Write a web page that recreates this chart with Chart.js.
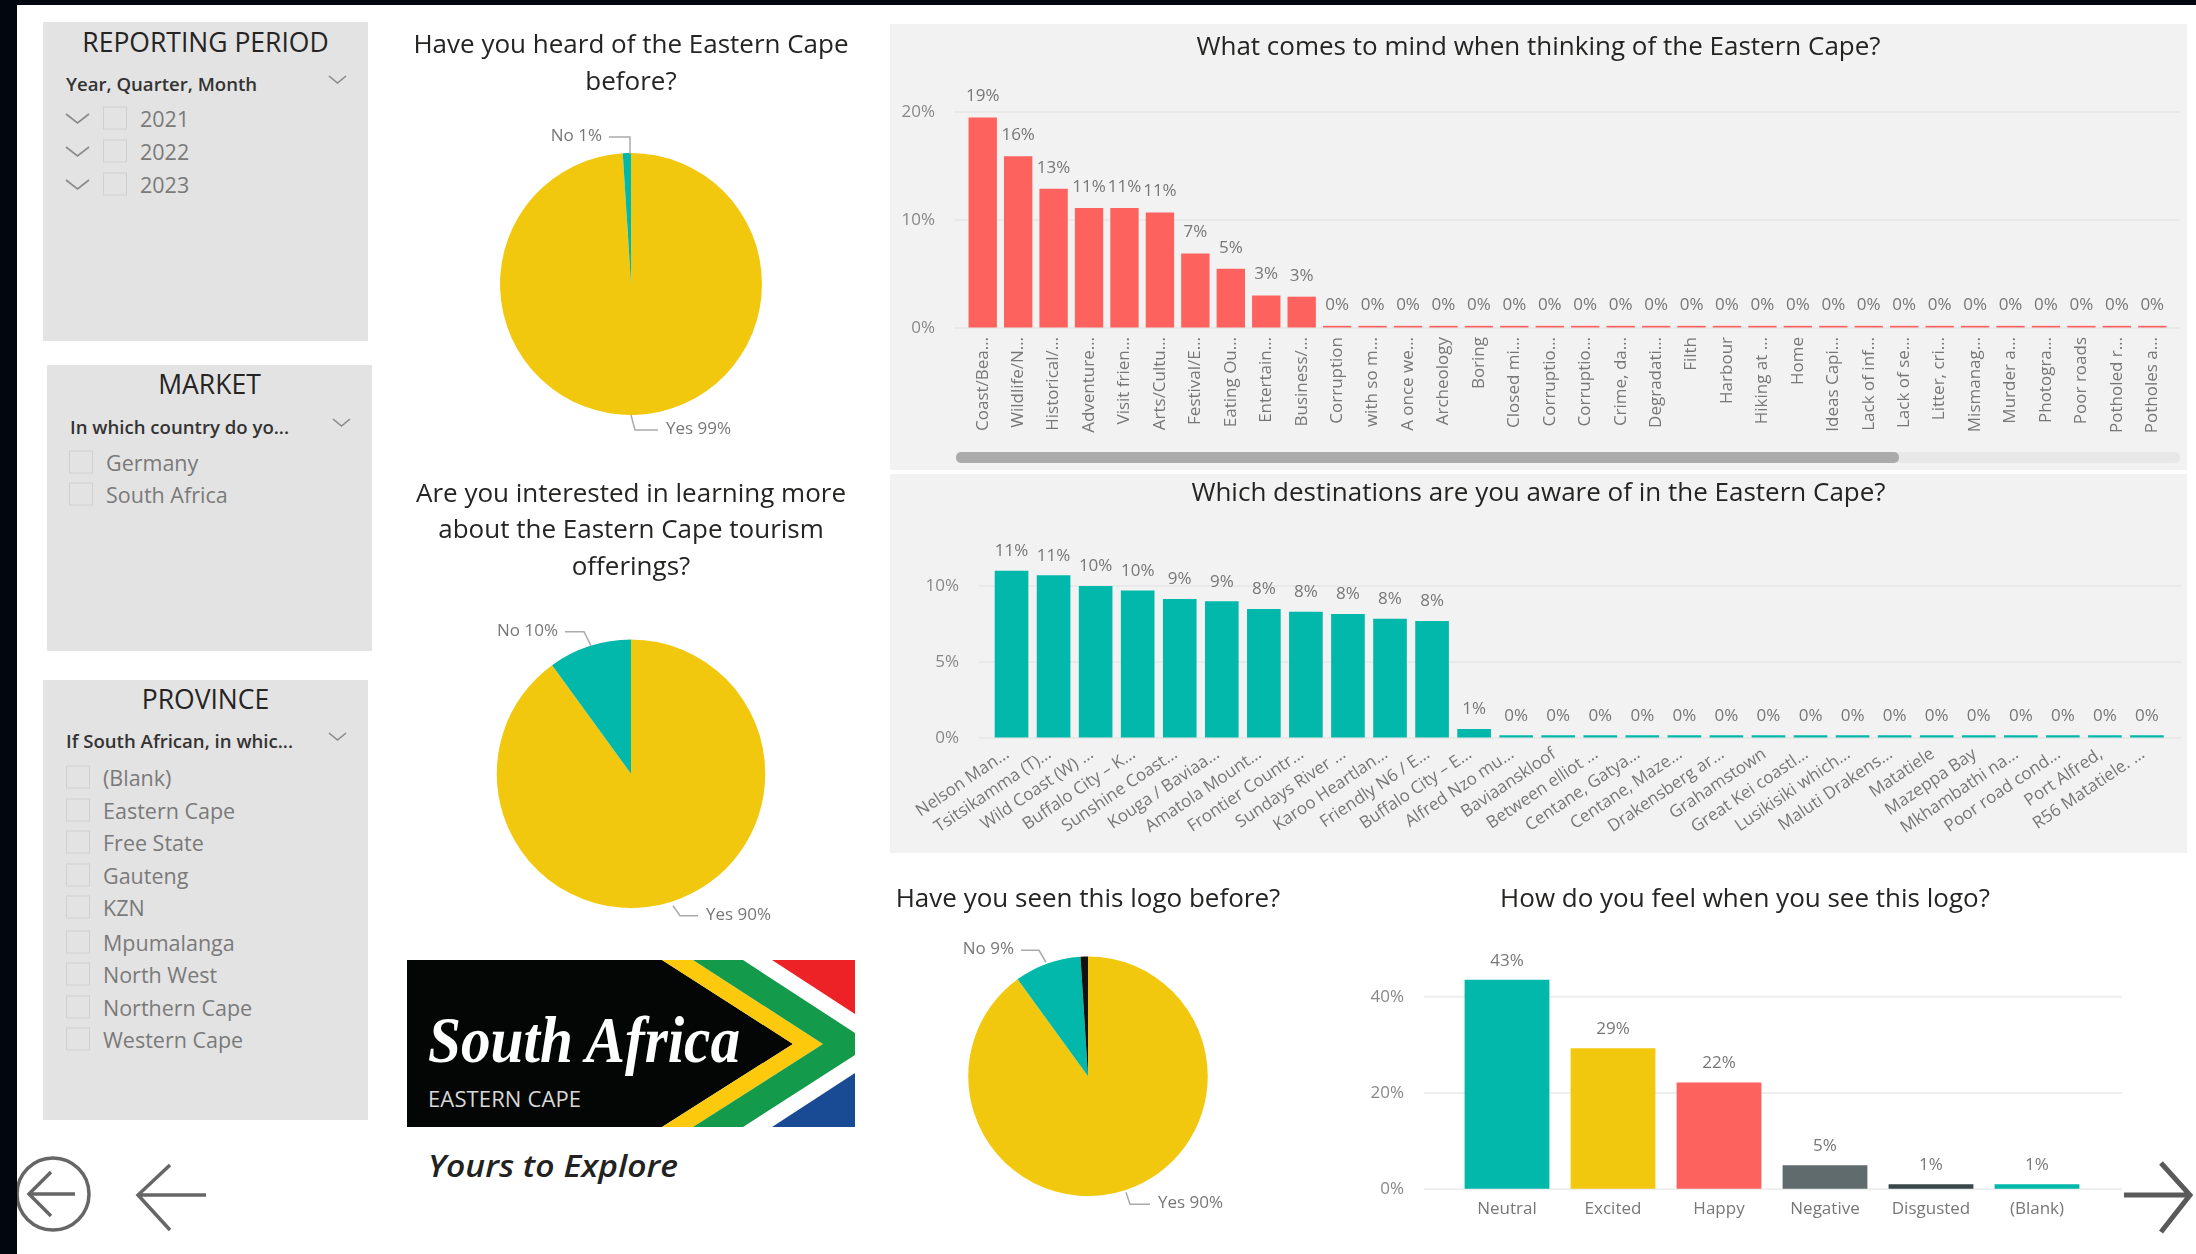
<!DOCTYPE html>
<html>
<head>
<meta charset="utf-8">
<title>Eastern Cape survey</title>
<script src="https://cdn.jsdelivr.net/npm/chart.js@4"></script>
<style>
  html, body { margin: 0; padding: 0; background: #fff; }
  body { position: relative; width: 2196px; height: 1254px; overflow: hidden; font-family: "Open Sans", sans-serif; }
  canvas { position: absolute; }
  .box { position: absolute; }
  .txt { position: absolute; white-space: nowrap; transform: translateY(-50%); }
  .slicer-title { font-size: 26.5px; color: #252423; text-align: center; }
  .slicer-head { font-size: 18.6px; font-weight: 600; color: #333; }
  .slicer-item { font-size: 21.5px; color: #7a7a7a; }
  .check { position: absolute; width: 24px; height: 23px; border: 1px solid #d0d0d0; box-sizing: border-box; transform: translateY(-50%); }
  svg { position: absolute; left: 0; top: 0; }
</style>
</head>
<body>
<svg id="art" width="2196" height="1254">
  <!-- logo -->
  <polygon points="407,960 662,960 793,1044 662,1127 407,1127" fill="#040606"/>
  <polygon points="662,960 693,960 823,1044 693,1127 662,1127 793,1044" fill="#fcc90c"/>
  <polygon points="693,960 743,960 855,1033 855,1055 743,1127 693,1127 823,1044" fill="#149a4b"/>
  <polygon points="772,960 855,960 855,1014" fill="#ec2227"/>
  <polygon points="772,1127 855,1073 855,1127" fill="#194a94"/>
  <text x="428" y="1062" font-family="Liberation Serif" font-style="italic" font-weight="700" font-size="66" fill="#fff" textLength="312" lengthAdjust="spacingAndGlyphs">South Africa</text>
  <text x="428" y="1107" font-family="Open Sans" font-size="22" fill="#d8d8d8" textLength="153">EASTERN CAPE</text>
  <text x="428" y="1177" font-family="Open Sans" font-style="italic" font-weight="600" font-size="31" fill="#222" textLength="250" lengthAdjust="spacingAndGlyphs">Yours to Explore</text>
  <!-- page nav -->
  <g fill="none" stroke="#666" stroke-width="3.5">
    <circle cx="53" cy="1194" r="36"/>
    <path d="M75 1194 H29 M51 1172 L29 1194 L51 1216"/>
    <path d="M206 1195 H138 M170 1165 L138 1195 L170 1230"/>
  </g>
  <g fill="none" stroke="#5a5a5a" stroke-width="5">
    <path d="M2124 1195 H2188 M2161 1163 L2190 1195 L2161 1232"/>
  </g>
</svg>

<script>
const mindLabels = ['Coast/Bea…','Wildlife/N…','Historical/…','Adventure…','Visit frien…','Arts/Cultu…','Festival/E…','Eating Ou…','Entertain…','Business/…','Corruption','with so m…','A once we…','Archeology','Boring','Closed mi…','Corruptio…','Corruptio…','Crime, da…','Degradati…','Filth','Harbour','Hiking at …','Home','Ideas Capi…','Lack of inf…','Lack of se…','Litter, cri…','Mismanag…','Murder a…','Photogra…','Poor roads','Potholed r…','Potholes a…'];
const mindValues = [19.49,15.9,12.9,11.1,11.1,10.7,6.9,5.49,3.0,2.9,0.2,0.2,0.2,0.2,0.2,0.2,0.2,0.2,0.2,0.2,0.2,0.2,0.2,0.2,0.2,0.2,0.2,0.2,0.2,0.2,0.2,0.2,0.2,0.2];

const destLabels = ['Nelson Man…','Tsitsikamma (T)…','Wild Coast (W) …','Buffalo City – K…','Sunshine Coast…','Kouga / Baviaa…','Amatola Mount…','Frontier Countr…','Sundays River …','Karoo Heartlan…','Friendly N6 / E…','Buffalo City – E…','Alfred Nzo mu…','Baviaanskloof','Between elliot …','Centane, Gatya…','Centane, Maze…','Drakensberg ar…','Grahamstown','Great Kei coastl…','Lusikisiki which…','Maluti Drakens…','Matatiele','Mazeppa Bay','Mkhambathi na…','Poor road cond…','Port Alfred,','R56 Matatiele. …'];
const destValues = [11.0,10.7,10.0,9.7,9.15,9.0,8.49,8.3,8.15,7.85,7.7,0.6,0.18,0.18,0.18,0.18,0.18,0.18,0.18,0.18,0.18,0.18,0.18,0.18,0.18,0.18,0.18,0.18];

const feelLabels = ['Neutral','Excited','Happy','Negative','Disgusted','(Blank)'];
const feelValues = [43.49,29.3,22.2,5.0,1.04,1.04];

const heardLabels = ['Yes','No'];
const heardValues = [99,1];
const interestLabels = ['Yes','No'];
const interestValues = [90,10];
const logoLabels = ['Yes','No','(Blank)'];
const logoValues = [90,9,1];

const YELLOW = '#F2C80F', TEAL = '#01B8AA', RED = '#FD625E', GREY = '#5F6B6D', DARK = '#374649';
const FONT = '"Open Sans", sans-serif';
const TITLE_SIZE = 26;

// slicers
const periodItems = ['2021','2022','2023'];
const marketItems = ['Germany','South Africa'];
const provinceItems = ['(Blank)','Eastern Cape','Free State','Gauteng','KZN','Mpumalanga','North West','Northern Cape','Western Cape'];

function addDiv(cls, css, text) {
  const d = document.createElement('div');
  d.className = cls;
  d.style.cssText = css;
  if (text) d.textContent = text;
  document.body.insertBefore(d, document.getElementById('art'));
  return d;
}

function chevron(x, y, w, h, color) {
  const art = document.getElementById('art');
  const p = document.createElementNS('http://www.w3.org/2000/svg', 'polyline');
  p.setAttribute('points', `${x},${y} ${x + w / 2},${y + h} ${x + w},${y}`);
  p.setAttribute('fill', 'none');
  p.setAttribute('stroke', color);
  p.setAttribute('stroke-width', '1.6');
  art.appendChild(p);
}

function slicer(s) {
  addDiv('box', `left:${s.x}px;top:${s.y}px;width:${s.w}px;height:${s.h}px;background:#e3e3e3`);
  addDiv('txt slicer-title', `left:${s.x}px;width:${s.w}px;top:${s.titleY}px`, s.title);
  addDiv('txt slicer-head', `left:${s.x + 23}px;top:${s.headY}px`, s.head);
  chevron(s.x + 286, s.headY - 7, 17, 7, '#8a8a8a');
  s.items.forEach((item, i) => {
    const y = s.rowY[i];
    if (s.tree) chevron(s.x + 23, y - 5, 23, 9, '#8a8a8a');
    addDiv('check', `left:${s.checkX}px;top:${y - 1}px`);
    addDiv('txt slicer-item', `left:${s.checkX + 37}px;top:${y - 1}px`, item);
  });
}

addDiv('box', 'left:0;top:0;width:2196px;height:5px;background:#02060f');
addDiv('box', 'left:0;top:0;width:17px;height:1254px;background:#02060f;z-index:2');
slicer({ x: 43, y: 22, w: 325, h: 319, title: 'REPORTING PERIOD', titleY: 42, head: 'Year, Quarter, Month', headY: 83, items: periodItems, rowY: [119,152,185], checkX: 103, tree: true });
slicer({ x: 47, y: 365, w: 325, h: 286, title: 'MARKET', titleY: 384, head: 'In which country do yo...', headY: 426, items: marketItems, rowY: [463,495], checkX: 69 });
slicer({ x: 43, y: 680, w: 325, h: 440, title: 'PROVINCE', titleY: 699, head: 'If South African, in whic...', headY: 740, items: provinceItems, rowY: [778,811,843,876,908,943,975,1008,1040], checkX: 66 });

addDiv('box', 'left:890px;top:24px;width:1297px;height:446px;background:#f2f2f2');
addDiv('box', 'left:890px;top:474px;width:1297px;height:379px;background:#f2f2f2');
addDiv('box', 'left:956px;top:452px;width:1224px;height:11px;border-radius:5px;background:#e8e8e8;z-index:1');
addDiv('box', 'left:956px;top:452px;width:943px;height:11px;border-radius:5px;background:#ababab;z-index:1');

function addCanvas(x, y, w, h) {
  const c = document.createElement('canvas');
  c.width = w;
  c.height = h;
  c.style.left = x + 'px';
  c.style.top = y + 'px';
  c.style.width = w + 'px';
  c.style.height = h + 'px';
  document.body.appendChild(c);
  return c.getContext('2d');
}

// gridlines run a bit past the bars on both sides
const softGrid = {
  id: 'softGrid',
  beforeDatasetsDraw(chart, args, opts) {
    const y = chart.scales.y;
    if (!y || !opts.color) return;
    const ctx = chart.ctx, a = chart.chartArea;
    ctx.save();
    ctx.strokeStyle = opts.color;
    ctx.lineWidth = opts.width;
    y.ticks.forEach(t => {
      const py = y.getPixelForValue(t.value);
      ctx.beginPath();
      ctx.moveTo(a.left - opts.left, py);
      ctx.lineTo(a.right + opts.right, py);
      ctx.stroke();
    });
    ctx.restore();
  }
};

const barLabels = {
  id: 'barLabels',
  afterDatasetsDraw(chart, args, opts) {
    if (!opts.offset) return;
    const ctx = chart.ctx;
    ctx.save();
    ctx.font = `17px ${FONT}`;
    ctx.fillStyle = '#777';
    ctx.textAlign = 'center';
    ctx.textBaseline = 'middle';
    chart.getDatasetMeta(0).data.forEach((bar, i) => {
      const v = chart.data.datasets[0].data[i];
      ctx.fillText(Math.round(v) + '%', bar.x, bar.y - opts.offset);
    });
    ctx.restore();
  }
};

// label + leader line for pie slices, offsets are from the pie centre
const pieCallouts = {
  id: 'pieCallouts',
  afterDatasetsDraw(chart, args, opts) {
    if (!opts.items) return;
    const ctx = chart.ctx;
    const arc = chart.getDatasetMeta(0).data[0];
    ctx.save();
    ctx.font = `17px ${FONT}`;
    ctx.textBaseline = 'middle';
    opts.items.forEach(it => {
      const pts = it.path;
      ctx.strokeStyle = '#aaa';
      ctx.lineWidth = 1.5;
      ctx.beginPath();
      pts.forEach((p, i) => {
        if (i === 0) ctx.moveTo(arc.x + p[0], arc.y + p[1]);
        else ctx.lineTo(arc.x + p[0], arc.y + p[1]);
      });
      ctx.stroke();
      const last = pts[pts.length - 1];
      const left = last[0] < 0;
      ctx.fillStyle = '#777';
      ctx.textAlign = left ? 'right' : 'left';
      const text = chart.data.labels[it.slice] + ' ' + chart.data.datasets[0].data[it.slice] + '%';
      ctx.fillText(text, arc.x + last[0] + (left ? -7 : 8), arc.y + last[1] - 1);
    });
    ctx.restore();
  }
};

Chart.register(softGrid, barLabels, pieCallouts);

function barChart(ctx, cfg) {
  return new Chart(ctx, {
    type: 'bar',
    data: {
      labels: cfg.labels,
      datasets: [{ data: cfg.values, backgroundColor: cfg.colors, barPercentage: 0.8, categoryPercentage: 1 }]
    },
    options: {
      responsive: false,
      animation: false,
      plugins: {
        legend: { display: false },
        tooltip: { enabled: false },
        title: {
          display: true,
          text: cfg.title,
          color: '#252423',
          font: { family: FONT, size: TITLE_SIZE, weight: 'normal', lineHeight: 1.4 },
          padding: { top: cfg.titleTop, bottom: cfg.titleBottom }
        },
        softGrid: { color: cfg.gridColor, width: 2, left: cfg.gridLeft, right: cfg.gridRight },
        barLabels: { offset: cfg.labelOffset }
      },
      scales: {
        x: {
          grid: { display: false },
          border: { display: false },
          ticks: { color: '#777', font: { family: FONT, size: 17 }, padding: cfg.xPad, labelOffset: cfg.xShift, autoSkip: false, minRotation: cfg.rotation, maxRotation: cfg.rotation },
          afterFit: s => { s.height = cfg.xHeight; }
        },
        y: {
          min: 0,
          max: cfg.max,
          // ticks kept transparent, they only push the labels away from the plot
          grid: { drawOnChartArea: false, drawTicks: true, tickLength: cfg.yGap, tickColor: 'transparent' },
          border: { display: false },
          ticks: { stepSize: cfg.step, includeBounds: false, color: '#888', padding: 3, font: { family: FONT, size: 17 }, callback: v => v + '%' },
          afterFit: s => { s.width = cfg.yWidth; }
        },
        // empty axis, keeps the plot short of the right edge and the title centred on the canvas
        rightGap: {
          axis: 'y',
          position: 'right',
          grid: { display: false },
          border: { display: false },
          ticks: { display: false },
          afterFit: s => { s.width = cfg.rightGap; }
        }
      }
    }
  });
}

function pieChart(ctx, cfg) {
  return new Chart(ctx, {
    type: 'pie',
    data: { labels: cfg.labels, datasets: [{ data: cfg.values, backgroundColor: cfg.colors, borderWidth: 0 }] },
    options: {
      responsive: false,
      animation: false,
      layout: { padding: { bottom: cfg.bottom } },
      plugins: {
        legend: { display: false },
        tooltip: { enabled: false },
        title: {
          display: true,
          text: cfg.title,
          color: '#252423',
          font: { family: FONT, size: TITLE_SIZE, weight: 'normal', lineHeight: 1.4 },
          padding: { top: cfg.titleTop, bottom: cfg.titleBottom }
        },
        pieCallouts: { items: cfg.callouts }
      }
    }
  });
}

barChart(addCanvas(890, 24, 1297, 446), {
  labels: mindLabels, values: mindValues, colors: RED,
  title: 'What comes to mind when thinking of the Eastern Cape?',
  titleTop: 5, titleBottom: 46.6, rightGap: 17, xHeight: 142, yWidth: 75, yGap: 27, xPad: 1, xShift: 0,
  max: 20, step: 10, rotation: 90, gridColor: '#e9e9e9', gridLeft: 11, gridRight: 10, labelOffset: 21
});

barChart(addCanvas(890, 474, 1297, 379), {
  labels: destLabels, values: destValues, colors: TEAL,
  title: 'Which destinations are you aware of in the Eastern Cape?',
  titleTop: 1, titleBottom: 44.2, rightGap: 19, xHeight: 115, yWidth: 100.5, yGap: 28.5, xPad: -2, xShift: -4,
  max: 12, step: 5, rotation: 34, gridColor: '#e9e9e9', gridLeft: 12, gridRight: 13, labelOffset: 19.5
});

barChart(addCanvas(1360, 870, 770, 360), {
  labels: feelLabels, values: feelValues, colors: [TEAL, YELLOW, RED, GREY, DARK, TEAL],
  title: 'How do you feel when you see this logo?',
  titleTop: 11.4, titleBottom: 54.8, rightGap: 40, xHeight: 40.7, yWidth: 94, yGap: 47, xPad: 2, xShift: 0,
  max: 45, step: 20, rotation: 0, gridColor: '#eeeeee', gridLeft: 30, gridRight: 32, labelOffset: 19
});

pieChart(addCanvas(406, 24, 450, 416), {
  labels: heardLabels, values: heardValues, colors: [YELLOW, TEAL],
  title: ['Have you heard of the Eastern Cape', 'before?'],
  titleTop: 3.5, titleBottom: 52.7, bottom: 25,
  callouts: [
    { slice: 1, path: [[-1,-130],[-1,-147],[-22,-147]] },
    { slice: 0, path: [[0,131],[4,146],[27,146]] }
  ]
});

pieChart(addCanvas(406, 474, 450, 459), {
  labels: interestLabels, values: interestValues, colors: [YELLOW, TEAL],
  title: ['Are you interested in learning more', 'about the Eastern Cape tourism', 'offerings?'],
  titleTop: 2.4, titleBottom: 53.9, bottom: 25,
  callouts: [
    { slice: 1, path: [[-40,-128],[-47,-142],[-66,-142]] },
    { slice: 0, path: [[42,132],[49,142],[67,142]] }
  ]
});

pieChart(addCanvas(888, 870, 400, 356), {
  labels: logoLabels, values: logoValues, colors: [YELLOW, TEAL, '#111111'],
  title: 'Have you seen this logo before?',
  titleTop: 11.4, titleBottom: 38.7, bottom: 30,
  callouts: [
    { slice: 1, path: [[-42,-114],[-49,-126],[-67,-126]] },
    { slice: 0, path: [[38,116],[42,128],[62,128]] }
  ]
});
</script>
</body>
</html>
